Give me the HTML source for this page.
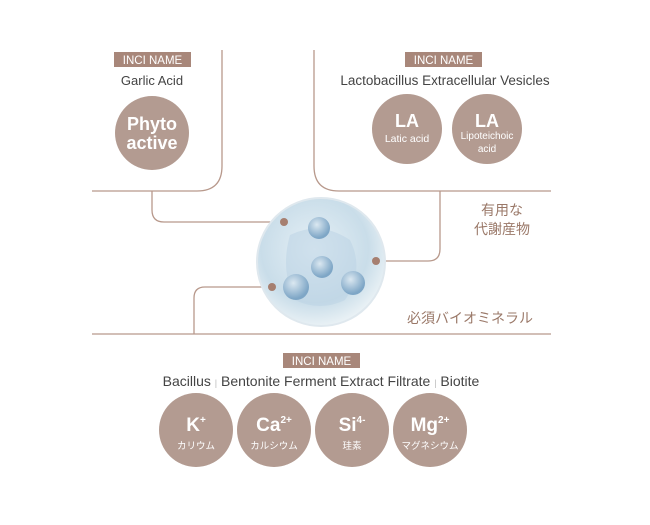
<!DOCTYPE html>
<html><head><meta charset="utf-8"><style>
body{margin:0;background:#fff;width:650px;height:520px;overflow:hidden}
svg text{font-family:"Liberation Sans","Noto Sans CJK JP",sans-serif}
</style></head><body>
<svg width="650" height="520" viewBox="0 0 650 520" xmlns="http://www.w3.org/2000/svg">
<defs>
<radialGradient id="sph" cx="0.45" cy="0.4" r="0.6">
<stop offset="0" stop-color="#e6f0f6"/><stop offset="0.7" stop-color="#c9dde9"/><stop offset="1" stop-color="#e9f1f5"/>
</radialGradient>
<radialGradient id="bub" cx="0.4" cy="0.35" r="0.6">
<stop offset="0" stop-color="#dbe8f1"/><stop offset="1" stop-color="#7ea6c6"/>
</radialGradient>
</defs>
<g fill="none" stroke="#b8998c" stroke-width="1.3">
<path d="M222 50 V166 Q222 191 197 191 H92"/>
<path d="M152 191 V210 Q152 222 164 222 H284"/>
<path d="M314 50 V166 Q314 191 339 191 H551"/>
<path d="M440 191 V249 Q440 261 428 261 H376"/>
<path d="M92 334 H551"/>
<path d="M194 334 V298 Q194 287 205 287 H272"/>
</g>
<circle cx="321" cy="262" r="64" fill="url(#sph)" stroke="#dfe8ee" stroke-width="2"/>
<path d="M290 235 Q320 220 350 240 Q365 270 345 300 Q320 312 295 300 Q280 270 290 235Z" fill="#b9d2e4" opacity="0.5"/>
<circle cx="319" cy="228" r="11" fill="url(#bub)"/>
<circle cx="322" cy="267" r="11" fill="url(#bub)"/>
<circle cx="296" cy="287" r="13" fill="url(#bub)"/>
<circle cx="353" cy="283" r="12" fill="url(#bub)"/>
<circle cx="284" cy="222" r="4" fill="#a67f70"/>
<circle cx="376" cy="261" r="4" fill="#a67f70"/>
<circle cx="272" cy="287" r="4" fill="#a67f70"/>
<g fill="#a8877a">
<rect x="114" y="52" width="77" height="15"/>
<rect x="405" y="52" width="77" height="15"/>
<rect x="283" y="353" width="77" height="15"/>
</g>
<g fill="#fff" font-size="11.5" text-anchor="middle">
<text x="152.5" y="64">INCI NAME</text>
<text x="443.5" y="64">INCI NAME</text>
<text x="321.5" y="365">INCI NAME</text>
</g>
<g fill="#444" text-anchor="middle">
<text x="152" y="85" font-size="13">Garlic Acid</text>
<text x="445" y="85" font-size="13.5">Lactobacillus Extracellular Vesicles</text>
<text x="321" y="386" font-size="14">Bacillus <tspan fill="#bbb" font-size="9">|</tspan> Bentonite Ferment Extract Filtrate <tspan fill="#bbb" font-size="9">|</tspan> Biotite</text>
</g>
<g fill="#b39b91">
<circle cx="152" cy="133" r="37"/>
<circle cx="407" cy="129" r="35"/>
<circle cx="487" cy="129" r="35"/>
<circle cx="196" cy="430" r="37"/>
<circle cx="274" cy="430" r="37"/>
<circle cx="352" cy="430" r="37"/>
<circle cx="430" cy="430" r="37"/>
</g>
<g fill="#fff" text-anchor="middle">
<text x="152" y="130" font-size="18" font-weight="bold">Phyto</text>
<text x="152" y="149" font-size="18" font-weight="bold">active</text>
<text x="407" y="127" font-size="18" font-weight="bold">LA</text>
<text x="407" y="142" font-size="10.5">Latic acid</text>
<text x="487" y="127" font-size="18" font-weight="bold">LA</text>
<text x="487" y="139" font-size="10">Lipoteichoic</text>
<text x="487" y="152" font-size="10">acid</text>
<text x="196" y="431" font-size="19" font-weight="bold">K<tspan font-size="10" dy="-8">+</tspan></text>
<text x="274" y="431" font-size="19" font-weight="bold">Ca<tspan font-size="10" dy="-8">2+</tspan></text>
<text x="352" y="431" font-size="19" font-weight="bold">Si<tspan font-size="10" dy="-8">4-</tspan></text>
<text x="430" y="431" font-size="19" font-weight="bold">Mg<tspan font-size="10" dy="-8">2+</tspan></text>
<text x="196" y="449" font-size="9.5">カリウム</text>
<text x="274" y="449" font-size="9.5">カルシウム</text>
<text x="352" y="449" font-size="9.5">珪素</text>
<text x="430" y="449" font-size="9.5">マグネシウム</text>
</g>
<g fill="#9a7868" font-size="14" text-anchor="middle">
<text x="502" y="215">有用な</text>
<text x="502" y="234">代謝産物</text>
<text x="470" y="323">必須バイオミネラル</text>
</g>
</svg>
</body></html>
